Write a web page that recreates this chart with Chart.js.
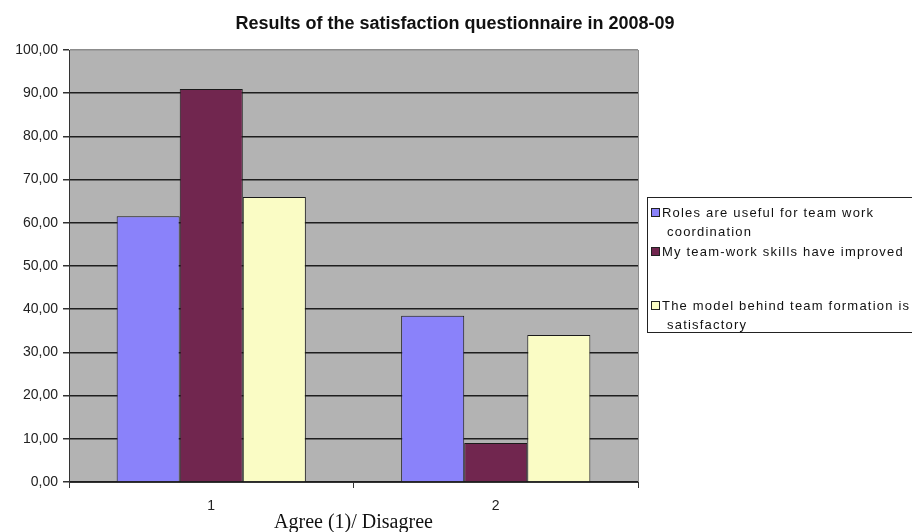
<!DOCTYPE html>
<html>
<head>
<meta charset="utf-8">
<script src="https://cdn.jsdelivr.net/npm/chart.js@4.4.1/dist/chart.umd.min.js"></script>
<style>
  body { margin: 0; background: #fff; overflow: hidden; }
</style>
</head>
<body>
<canvas id="myChart" width="912" height="532"></canvas>
<script>
// values (each category pair sums to 100)
const categories = ['1', '2'];
const seriesNames = [
    'Roles are useful for team work coordination',
    'My team-work skills have improved',
    'The model behind team formation is satisfactory'
];
const rolesUseful = [61.5, 38.5];
const skillsImproved = [91, 9];
const modelSatisfactory = [66, 34];
const legendLines = [
    ['Roles are useful for team work', 'coordination'],
    ['My team-work skills have improved'],
    ['The model behind team formation is', 'satisfactory']
];
const chartTitle = 'Results of the satisfaction questionnaire in 2008-09';
const colors = ['#8a82fa', '#71264f', '#fafcc5'];

const ctx = document.getElementById('myChart');

// grey plot area like the old excel chart, title centred over whole canvas
const plotBg = {
    id: 'plotBg',
    beforeDraw(chart) {
        const a = chart.chartArea;
        const c = chart.ctx;
        c.save();
        c.fillStyle = '#b3b3b3';
        c.fillRect(a.left, a.top, a.right - a.left, a.bottom - a.top);
        c.restore();
    },
    afterDraw(chart) {
        const a = chart.chartArea;
        const c = chart.ctx;
        c.save();
        c.strokeStyle = '#8c8c8c';
        c.lineWidth = 1;
        c.beginPath();
        c.moveTo(a.right + 0.5, a.top);
        c.lineTo(a.right + 0.5, a.bottom);
        c.stroke();
        c.fillStyle = '#111';
        c.font = 'bold 18px "Liberation Sans", Arial, sans-serif';
        c.textAlign = 'center';
        c.textBaseline = 'alphabetic';
        c.fillText(chartTitle, 455, 29);
        c.restore();
    }
};

// boxed legend with wrapped lines
const boxLegend = {
    id: 'boxLegend',
    afterDraw(chart) {
        const c = chart.ctx;
        const rowTop = [213, 252, 306];
        c.save();
        c.fillStyle = '#fff';
        c.fillRect(647.5, 197.5, 300, 135);
        c.strokeStyle = '#222';
        c.lineWidth = 1;
        c.strokeRect(647.5, 197.5, 300, 135);
        c.font = '13px "Liberation Sans", Arial, sans-serif';
        c.textBaseline = 'middle';
        c.letterSpacing = '1.2px';
        chart.data.datasets.forEach((ds, i) => {
            const y = rowTop[i];
            c.fillStyle = ds.backgroundColor;
            c.fillRect(651.5, y - 4.5, 8, 8);
            c.strokeStyle = '#222';
            c.strokeRect(651.5, y - 4.5, 8, 8);
            c.fillStyle = '#111';
            legendLines[i].forEach((t, j) => {
                c.fillText(t, j === 0 ? 662 : 667, y + j * 19);
            });
        });
        c.restore();
    }
};

let myBarChart = new Chart(ctx, {
    type: 'bar',
    data: {
        labels: categories,
        datasets: [
            { label: seriesNames[0], data: rolesUseful, backgroundColor: colors[0] },
            { label: seriesNames[1], data: skillsImproved, backgroundColor: colors[1] },
            { label: seriesNames[2], data: modelSatisfactory, backgroundColor: colors[2] }
        ].map(d => Object.assign(d, {
            borderColor: '#1a1a1a',
            borderWidth: 1,
            categoryPercentage: 0.665,
            barPercentage: 1
        }))
    },
    options: {
        responsive: false,
        animation: false,
        layout: { padding: { left: 0, right: 274, top: 50, bottom: 0 } },
        plugins: {
            legend: { display: false },
            tooltip: { enabled: false },
            title: { display: false }
        },
        scales: {
            x: {
                grid: { drawOnChartArea: false, tickLength: 6, color: '#333', offset: true },
                border: { color: '#333', width: 1 },
                ticks: {
                    color: '#222',
                    padding: 10,
                    font: { family: '"Liberation Sans", Arial, sans-serif', size: 14 }
                },
                title: {
                    display: true,
                    text: 'Agree (1)/ Disagree',
                    color: '#111',
                    padding: { top: 0, bottom: -3 },
                    font: { family: '"Liberation Serif", "Times New Roman", serif', size: 20 }
                },
                afterFit(scale) { scale.height = 50; }
            },
            y: {
                min: 0,
                max: 100,
                ticks: {
                    stepSize: 10,
                    color: '#222',
                    padding: 5,
                    font: { family: '"Liberation Sans", Arial, sans-serif', size: 14 },
                    callback: v => v.toFixed(2).replace('.', ',')
                },
                grid: {
                    color: c => (c.tick && c.tick.value === 100) ? '#8c8c8c' : '#1e1e1e',
                    tickColor: '#333',
                    lineWidth: 1.5,
                    tickLength: 6
                },
                border: { color: '#333', width: 1 },
                afterFit(scale) { scale.width = 69; }
            }
        }
    },
    plugins: [plotBg, boxLegend]
});
</script>
</body>
</html>
